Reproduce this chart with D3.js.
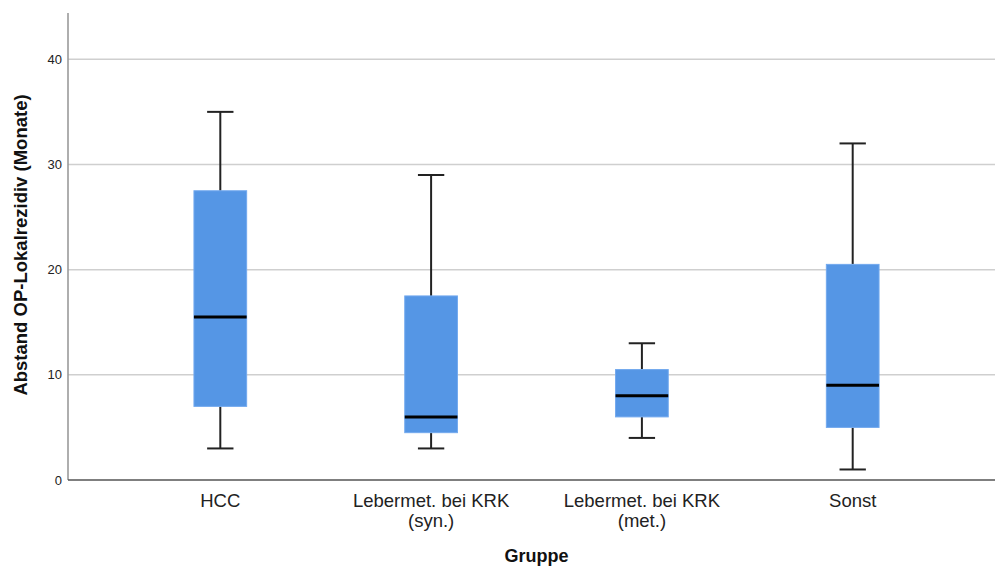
<!DOCTYPE html>
<html>
<head>
<meta charset="utf-8">
<script src="https://cdn.jsdelivr.net/npm/d3@7"></script>
<style>
  html, body { margin: 0; padding: 0; background: #fff; }
  svg { display: block; }
  text { font-family: "Liberation Sans", Arial, sans-serif; }
</style>
</head>
<body>
<svg id="chart" width="995" height="567"></svg>
<script>
// Gruppen (x axis categories), each label may wrap to two lines
const categories = ["HCC", "Lebermet. bei KRK (syn.)", "Lebermet. bei KRK (met.)", "Sonst"];
const categoryLines = [["HCC"], ["Lebermet. bei KRK", "(syn.)"], ["Lebermet. bei KRK", "(met.)"], ["Sonst"]];

// Five-number summaries per group (months)
const whiskerLow  = [3, 3, 4, 1];
const q1          = [7, 4.5, 6, 5];
const median      = [15.5, 6, 8, 9];
const q3          = [27.5, 17.5, 10.5, 20.5];
const whiskerHigh = [35, 29, 13, 32];

const yTicks = [0, 10, 20, 30, 40];
const yMax = 44.4;

(function draw() {
  const svg = d3.select("#chart");
  const plotLeft = 68, plotBottom = 480, plotTop = 13, plotRight = 1005;

  const x = d3.scalePoint().domain(categories).range([plotLeft, plotRight]).padding(0.7225);
  const y = d3.scaleLinear().domain([0, yMax]).range([plotBottom, plotTop]);
  const boxW = x.step() * 0.25;
  const capW = boxW / 2;

  // horizontal grid lines
  svg.append("g").selectAll("line").data(yTicks.filter(d => d > 0)).join("line")
    .attr("x1", plotLeft).attr("x2", 995)
    .attr("y1", d => y(d)).attr("y2", d => y(d))
    .attr("stroke", "#cfcfcf").attr("stroke-width", 1.5);

  // y axis
  const yAxis = svg.append("g").attr("transform", `translate(${plotLeft},0)`)
    .call(d3.axisLeft(y).tickValues(yTicks).tickSize(0).tickPadding(6));
  yAxis.select(".domain").remove();
  yAxis.selectAll("text").attr("font-size", 13).attr("fill", "#222")
    .attr("font-family", "'Liberation Sans', Arial, sans-serif");
  svg.append("line").attr("x1", plotLeft).attr("x2", plotLeft).attr("y1", y(yMax)).attr("y2", y(0))
    .attr("stroke", "#9a9a9a").attr("stroke-width", 1.6);

  // x axis baseline
  svg.append("line").attr("x1", plotLeft).attr("x2", 995).attr("y1", y(0)).attr("y2", y(0))
    .attr("stroke", "#555").attr("stroke-width", 1.4);

  const data = categories.map((c, i) => ({
    c, lo: whiskerLow[i], q1: q1[i], med: median[i], q3: q3[i], hi: whiskerHigh[i], lines: categoryLines[i]
  }));

  const g = svg.append("g").selectAll("g").data(data).join("g")
    .attr("transform", d => `translate(${x(d.c)},0)`);

  // whisker stems
  g.append("line").attr("x1", 0).attr("x2", 0)
    .attr("y1", d => y(d.q3)).attr("y2", d => y(d.hi))
    .attr("stroke", "#222").attr("stroke-width", 2);
  g.append("line").attr("x1", 0).attr("x2", 0)
    .attr("y1", d => y(d.q1)).attr("y2", d => y(d.lo))
    .attr("stroke", "#222").attr("stroke-width", 2);
  // caps
  g.append("line").attr("x1", -capW / 2).attr("x2", capW / 2)
    .attr("y1", d => y(d.hi)).attr("y2", d => y(d.hi))
    .attr("stroke", "#222").attr("stroke-width", 2);
  g.append("line").attr("x1", -capW / 2).attr("x2", capW / 2)
    .attr("y1", d => y(d.lo)).attr("y2", d => y(d.lo))
    .attr("stroke", "#222").attr("stroke-width", 2);
  // box
  g.append("rect").attr("x", -boxW / 2).attr("width", boxW)
    .attr("y", d => y(d.q3)).attr("height", d => y(d.q1) - y(d.q3))
    .attr("fill", "#5596e5").attr("stroke", "#72a9ee").attr("stroke-width", 1);
  // median
  g.append("line").attr("x1", -boxW / 2).attr("x2", boxW / 2)
    .attr("y1", d => y(d.med)).attr("y2", d => y(d.med))
    .attr("stroke", "#000").attr("stroke-width", 3);

  // category labels
  const lab = svg.append("g").selectAll("text").data(data).join("text")
    .attr("text-anchor", "middle").attr("font-size", 18.5).attr("fill", "#222")
    .attr("transform", d => `translate(${x(d.c)},507)`);
  lab.selectAll("tspan").data(d => d.lines).join("tspan")
    .attr("x", 0).attr("dy", (d, i) => i === 0 ? 0 : 19.5)
    .text(d => d);

  // axis titles
  svg.append("text").attr("x", (plotLeft + 995) / 2 + 5).attr("y", 562)
    .attr("text-anchor", "middle").attr("font-size", 18).attr("font-weight", "bold")
    .attr("fill", "#111").text("Gruppe");

  svg.append("text").attr("transform", "translate(27,245) rotate(-90)")
    .attr("text-anchor", "middle").attr("font-size", 18.5).attr("font-weight", "bold")
    .attr("fill", "#111").text("Abstand OP-Lokalrezidiv (Monate)");
})();
</script>
</body>
</html>
